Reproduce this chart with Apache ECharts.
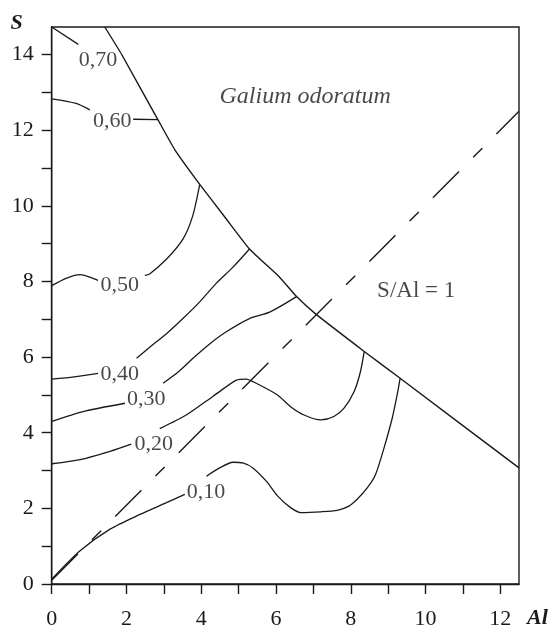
<!DOCTYPE html>
<html><head><meta charset="utf-8">
<script src="https://cdn.jsdelivr.net/npm/echarts@6/dist/echarts.min.js"></script>
<style>html,body{margin:0;padding:0;background:#fff}#c{width:558px;height:630px}</style>
</head><body><div id="c"></div>
<script>
// ---- data (Al on x, S on y) ----
const xTickValues = [0,1,2,3,4,5,6,7,8,9,10,11,12];
const xLabelValues = [0,2,4,6,8,10,12];
const yTickValues = [0,1,2,3,4,5,6,7,8,9,10,11,12,13,14];
const yLabelValues = [0,2,4,6,8,10,12,14];

const boundaryLine = [[1.42,14.73],[1.88,13.99],[2.84,12.28],[3.29,11.49],[3.96,10.57],[4.65,9.68],[5.29,8.86],[6.09,8.12],[6.55,7.60],[7.05,7.15],[8.36,6.15],[9.32,5.44],[12.5,3.07]];
const ratioLine = [[0,0.1],[12.5,12.5]];

const c070a = [[0,14.73],[0.71,14.27]];
const c060a = [[0,12.83],[0.65,12.71],[1.02,12.54]];
const c060b = [[2.18,12.29],[2.84,12.28]];
const c050a = [[0,7.89],[0.4,8.09],[0.76,8.18],[1.0,8.12],[1.24,8.03]];
const c050b = [[2.49,8.16],[2.62,8.2],[3.08,8.6],[3.51,9.12],[3.77,9.73],[3.96,10.57]];
const c040a = [[0,5.42],[0.6,5.48],[1.24,5.57]];
const c040b = [[2.27,5.97],[2.63,6.27],[3.07,6.62],[3.51,7.02],[3.96,7.46],[4.4,7.95],[4.85,8.38],[5.29,8.86]];
const c030a = [[0,4.30],[0.84,4.56],[1.96,4.78]];
const c030b = [[2.98,5.31],[3.4,5.62],[3.78,5.97],[4.2,6.33],[4.67,6.67],[5.29,7.02],[5.83,7.19],[6.55,7.60]];
const c020a = [[0,3.18],[0.76,3.29],[1.56,3.51],[2.13,3.70]];
const c020b = [[2.89,4.11],[3.6,4.47],[4.31,4.96],[4.94,5.39],[5.2,5.42],[5.47,5.31],[6.04,5.0],[6.39,4.69],[6.75,4.47],[7.2,4.34],[7.55,4.43],[7.82,4.65],[8.09,5.09],[8.26,5.62],[8.36,6.15]];
const c010a = [[0,0.13],[0.76,0.88],[1.56,1.45],[2.36,1.84],[3.07,2.15],[3.56,2.37]];
const c010b = [[4.14,2.85],[4.49,3.07],[4.85,3.22],[5.11,3.2],[5.38,3.07],[5.74,2.72],[6.04,2.33],[6.39,2.02],[6.66,1.89],[7.2,1.91],[7.64,1.95],[7.95,2.06],[8.17,2.24],[8.44,2.54],[8.66,2.89],[8.89,3.6],[9.11,4.39],[9.24,5.0],[9.32,5.44]];

const contourLabelText = ['0,70','0,60','0,50','0,40','0,30','0,20','0,10'];
const contourLabelX = [1.24,1.62,1.82,1.82,2.53,2.73,4.13];
const contourLabelY = [13.86,12.25,7.90,5.55,4.89,3.69,2.44];

const annotationText = ['Galium odoratum','S/Al = 1'];
const annotationX = [6.78, 9.75];
const annotationY = [12.88, 7.75];

// ---- chart ----
const INK = '#1a1a1a';
const FONT = '"Liberation Serif", "Times New Roman", serif';
const chart = echarts.init(document.getElementById('c'), null, {renderer:'canvas'});

function lineSeries(name, data, extra) {
  return Object.assign({
    name, type:'line', data, showSymbol:false, symbol:'none', silent:true,
    smooth:0.25, clip:true, animation:false,
    lineStyle:{color:INK, width:1.3}
  }, extra||{});
}

const series = [
  lineSeries('boundary', boundaryLine, {smooth:0.15, lineStyle:{color:INK,width:1.4}}),
  lineSeries('S/Al = 1', ratioLine, {smooth:false, lineStyle:{color:INK,width:1.4,type:[37,20,13,20]}}),
  lineSeries('0.70a', c070a),
  lineSeries('0.60a', c060a), lineSeries('0.60b', c060b),
  lineSeries('0.50a', c050a), lineSeries('0.50b', c050b),
  lineSeries('0.40a', c040a), lineSeries('0.40b', c040b),
  lineSeries('0.30a', c030a), lineSeries('0.30b', c030b),
  lineSeries('0.20a', c020a), lineSeries('0.20b', c020b),
  lineSeries('0.10a', c010a), lineSeries('0.10b', c010b),
  {
    name:'contour labels', type:'scatter', symbolSize:0, silent:true, animation:false,
    data: contourLabelText.map((t,i)=>({value:[contourLabelX[i],contourLabelY[i]], name:t})),
    label:{show:true, position:'inside', formatter:p=>p.name, color:INK, fontSize:22, fontFamily:FONT}
  },
  {
    name:'annotations', type:'scatter', symbolSize:0, silent:true, animation:false,
    data: annotationText.map((t,i)=>({value:[annotationX[i],annotationY[i]], name:t,
      label:{fontStyle: i===0 ? 'italic' : 'normal', fontSize: i===0 ? 24 : 23}})),
    label:{show:true, position:'inside', formatter:p=>p.name, color:INK, fontFamily:FONT}
  }
];

const axisCommon = {
  type:'value', interval:1,
  axisLine:{show:true, onZero:false, lineStyle:{color:INK, width:1.4}},
  axisTick:{show:true, inside:false, length:10, lineStyle:{color:INK, width:1.4}},
  splitLine:{show:false},
};

chart.setOption({
  animation:false,
  backgroundColor:'#fff',
  grid:{left:51.7, right:39, top:27, bottom:43.3, show:true, borderColor:INK, borderWidth:1.4, containLabel:false},
  xAxis: Object.assign({}, axisCommon, {
    min:0, max:12.5,
    axisTick:Object.assign({}, axisCommon.axisTick, {customValues:xTickValues}),
    axisLabel:{customValues:xLabelValues, color:INK, fontSize:22, fontFamily:FONT, margin:24}
  }),
  yAxis: Object.assign({}, axisCommon, {
    min:0, max:14.73,
    axisTick:Object.assign({}, axisCommon.axisTick, {customValues:yTickValues}),
    axisLabel:{customValues:yLabelValues, color:INK, fontSize:22, fontFamily:FONT, margin:18},
    name:'S', nameLocation:'end', nameGap:4,
    nameTextStyle:{color:INK, fontSize:22, fontFamily:FONT, fontStyle:'italic', fontWeight:'bold', verticalAlign:'middle', align:'right', padding:[0,29,0,0]}
  }),
  graphic:[{
    type:'text', left:527, top:607, silent:true,
    style:{text:'Al', fill:INK, font:'italic bold 22px ' + FONT}
  }],
  series
});
</script>
</body></html>
